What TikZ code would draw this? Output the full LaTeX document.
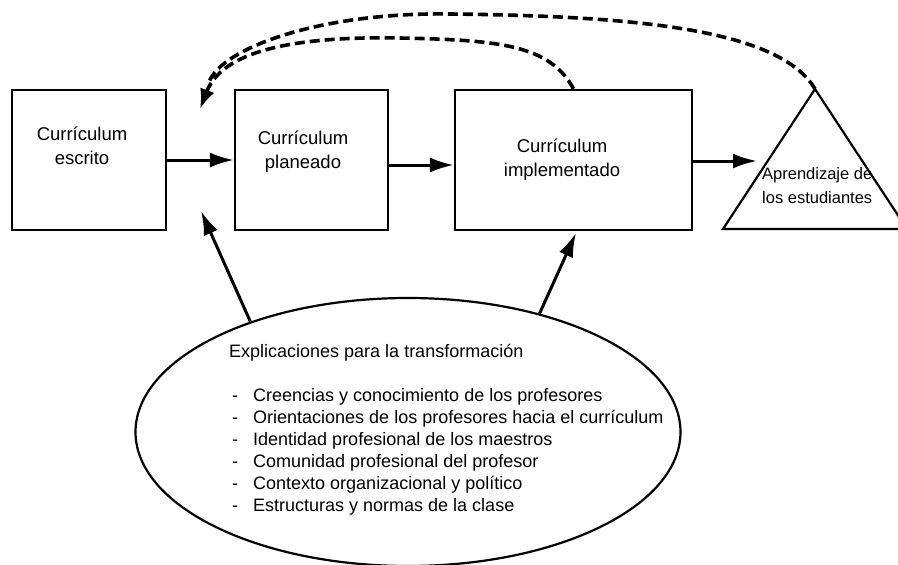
\documentclass[tikz,border=0pt]{standalone}
\usepackage{fontspec}
\setmainfont{Liberation Sans}
\usetikzlibrary{arrows.meta,positioning,shapes.geometric}
\newcommand{\itm}[1]{\makebox[24pt][l]{\hspace{3pt}-}#1}

\begin{document}
\begin{tikzpicture}[x=1pt, y=-1pt,
  stage/.style={draw, line width=2.2pt, minimum height=140pt, inner sep=0pt},
  lbl/.style={font=\fontsize{18.5}{24}\selectfont, align=center},
  arr/.style={-{Latex[length=24pt,width=15pt]}, line width=3pt},
  back/.style={-{Latex[length=20pt,width=15pt]}, line width=3.6pt,
    dash pattern=on 10pt off 5pt},
  backline/.style={line width=3.6pt, dash pattern=on 10pt off 5pt},
]
\useasboundingbox (0,0) rectangle (898,565);

% Curriculum stages
\node[stage, minimum width=154pt] (wr) at (89,160) {};
\node[stage, minimum width=153pt] (pl) at (311.5,160) {};
\node[stage, minimum width=237pt] (im) at (573.5,160) {};
\node[lbl] at (82,146) {Currículum\\escrito};
\node[lbl] at (303,152) {Currículum\\planeado};
\node[lbl] at (562,160) {Currículum\\implementado};

% Learning triangle
\coordinate (apex) at (815,89);
\draw[line width=2.2pt, line join=miter] (apex) -- (723,229) -- (907,229) -- cycle;
\node[font=\fontsize{16.5}{24}\selectfont, align=left, anchor=west, inner sep=0pt]
  (learn) at (762,186) {Aprendizaje de\\los estudiantes};
\coordinate (learnin) at (757,161);

% Explanations ellipse
\node[draw, ellipse, line width=2.2pt, minimum width=545pt, minimum height=268pt]
  (ell) at (408,432) {};
\node[font=\fontsize{18}{22}\selectfont, align=left, anchor=north west, inner sep=0pt]
  (why) at (229,344) {Explicaciones para la transformación\\[22pt]
  \itm{Creencias y conocimiento de los profesores}\\
  \itm{Orientaciones de los profesores hacia el currículum}\\
  \itm{Identidad profesional de los maestros}\\
  \itm{Comunidad profesional del profesor}\\
  \itm{Contexto organizacional y político}\\
  \itm{Estructuras y normas de la clase}};

% Forward arrows
\draw[arr] (wr.east) -- (pl.west);
\draw[arr] (pl.east |- 0,165) -- (im.west |- 0,165);
\draw[arr] (im.east |- 0,161) -- (learnin);

% Influence of the explanations
\coordinate (wrpl) at (201,211);
\coordinate (imbot) at (576,233);
\draw[arr] (ell.145) -- (wrpl);
\draw[arr] (ell.42) -- (imbot);

% Feedback (dashed)
\coordinate (wrtop) at (200,109);
\draw[back] (im.north) .. controls (550,45) and (500,40) .. (400,38)
  .. controls (290,36) and (222,52) .. (wrtop);
\draw[backline] (apex) .. controls (780,30) and (640,16) .. (450,14)
  .. controls (320,12) and (222,48) .. (209,82);
\end{tikzpicture}
\end{document}
